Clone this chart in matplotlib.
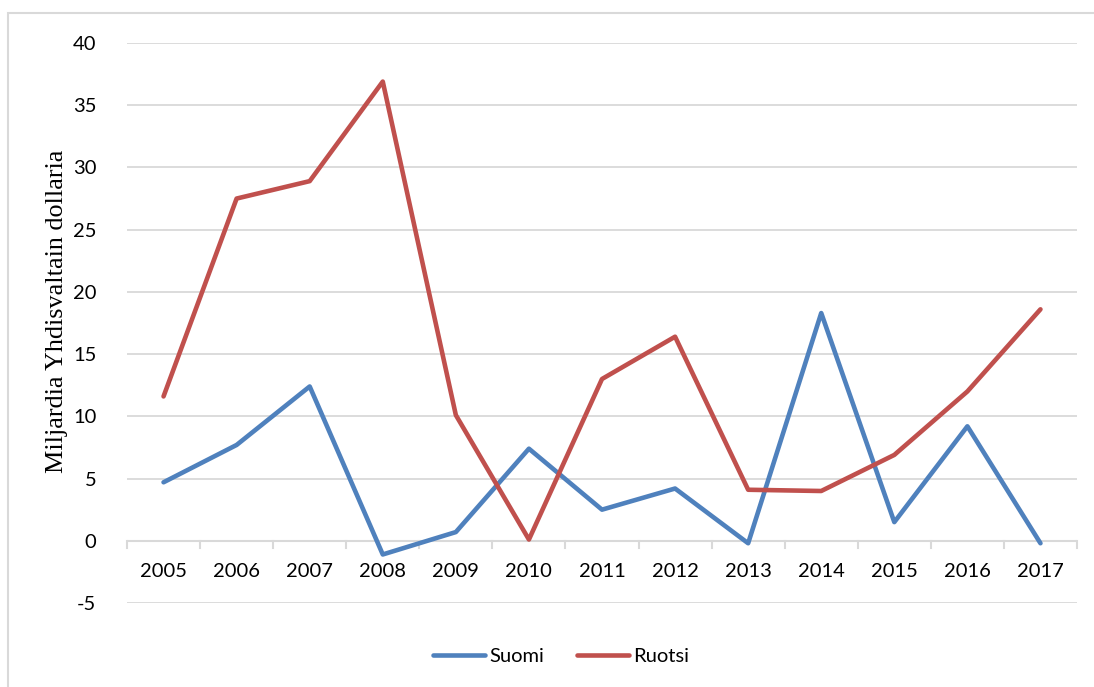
import matplotlib.pyplot as plt
from matplotlib.patches import Rectangle

years = ["2005", "2006", "2007", "2008", "2009", "2010", "2011",
         "2012", "2013", "2014", "2015", "2016", "2017"]
suomi = [4.7, 7.7, 12.4, -1.1, 0.7, 7.4, 2.5, 4.2, -0.2, 18.3, 1.5, 9.2, -0.2]
ruotsi = [11.6, 27.5, 28.9, 36.9, 10.1, 0.1, 13.0, 16.4, 4.1, 4.0, 6.9, 12.0, 18.6]
y_ticks = [-5, 0, 5, 10, 15, 20, 25, 30, 35, 40]

plt.rcParams['font.family'] = ['Lato', 'DejaVu Sans']

W, H = 1094, 687
fig = plt.figure(figsize=(W / 100, H / 100), dpi=100)
ax = fig.add_axes([127 / W, 1 - 603 / H, (1077 - 127) / W, (603 - 43) / H])

# outer chart frame
fig.patches.append(Rectangle((8 / W, -0.1), 1.2, 1 - 13 / H + 0.1,
                             transform=fig.transFigure, fill=False,
                             edgecolor='#d9d9d9', linewidth=1.5))

x = list(range(len(years)))
ax.plot(x, suomi, color='#4f81bd', linewidth=3.3, label='Suomi',
        solid_joinstyle='round', solid_capstyle='round')
ax.plot(x, ruotsi, color='#c0504d', linewidth=3.3, label='Ruotsi',
        solid_joinstyle='round', solid_capstyle='round')

ax.set_xlim(-0.5, len(years) - 0.5)
ax.set_ylim(-5, 40)
ax.set_yticks(y_ticks)
ax.set_yticklabels([str(v) for v in y_ticks], fontsize=14.5)
ax.tick_params(axis='y', length=0, pad=22)
ax.grid(axis='y', color='#d9d9d9', linewidth=1.3)
ax.set_axisbelow(True)
for s in ax.spines.values():
    s.set_visible(False)

# horizontal category axis at zero with boundary tick marks
ax.axhline(0, color='#d9d9d9', linewidth=1.5, zorder=1)
ax.set_xticks([])
for b in [i - 0.5 for i in range(len(years) + 1)]:
    ax.plot([b, b], [0, -0.55], color='#d9d9d9', linewidth=1.5, zorder=1,
            clip_on=False)
for i, lab in enumerate(years):
    ax.text(i, -2.5, lab, ha='center', va='center', fontsize=14.5)

ax.set_ylabel('Miljardia Yhdisvaltain dollaria', fontsize=18.8,
              family=['Liberation Serif', 'DejaVu Serif'])
ax.yaxis.set_label_coords(-0.062, 0.52)

fig.legend(loc='center', bbox_to_anchor=(561 / W, 1 - 656 / H), ncol=2,
           frameon=False, fontsize=14.5, handlelength=2.6, columnspacing=1.6,
           handletextpad=0.2)

fig.savefig('out.png', dpi=100)
